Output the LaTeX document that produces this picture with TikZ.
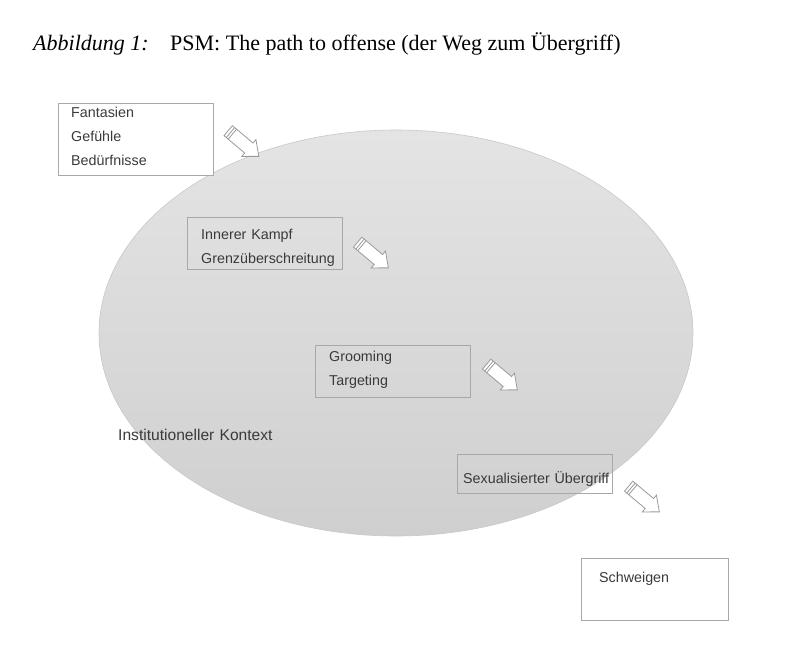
\documentclass[tikz,border=0pt]{standalone}
\usepackage{fontspec}
\setmainfont{Liberation Serif}
\setsansfont{Liberation Sans}
\usetikzlibrary{positioning}
\definecolor{txtgray}{HTML}{3A3A3A}
\definecolor{boxgray}{HTML}{A8A8A8}
\definecolor{elltop}{HTML}{E4E4E4}
\definecolor{ellbot}{HTML}{CFCFD0}
\definecolor{ellline}{HTML}{C8C8C8}
\definecolor{arrline}{HTML}{9A9A9A}
\tikzset{
  stagebox/.style={draw=boxgray, line width=0.9pt, rectangle, inner sep=0pt, anchor=north west},
  stagetext/.style={font=\sffamily\fontsize{14.3}{24}\selectfont, text=txtgray, align=left, text width=150pt, inner sep=0pt, anchor=base west},
  blockarrow/.pic={
    \draw[draw=arrline, fill=white, line width=0.8pt, line join=miter]
      (-20,-6.5) -- (7,-6.5) -- (7,-11) -- (20,0) -- (7,11) -- (7,6.5) -- (-20,6.5) -- cycle;
    \draw[draw=arrline, line width=0.8pt] (-17,-6.5) -- (-17,6.5);
    \draw[draw=arrline, line width=0.8pt] (-14.5,-6.5) -- (-14.5,6.5);
  }
}
\begin{document}
\begin{tikzpicture}[x=1pt,y=-1pt]
\useasboundingbox (0,0) rectangle (795,653);
\fill[white] (0,0) rectangle (795,653);
% title
\node[anchor=base west, inner sep=0pt, font=\fontsize{22}{26}\selectfont\itshape] (ab) at (33,50) {Abbildung 1:};
\node[anchor=base west, inner sep=0pt, font=\fontsize{22}{26}\selectfont] (tt) at (170,50) {PSM: The path to offense (der Weg zum Übergriff)};
% ellipse
\path[top color=elltop, bottom color=ellbot, draw=ellline, line width=0.6pt] (396,333) ellipse [x radius=297, y radius=203];
\node[stagetext, font=\sffamily\fontsize{15.6}{24}\selectfont, text width=170pt] (ctx) at (118,440) {Institutioneller Kontext};
% boxes
\node[stagebox, minimum width=155pt, minimum height=72pt, fill=white] (b1) at (58,103) {};
\node[stagetext] (t1) at (71,117) {Fantasien\\Gefühle\\Bedürfnisse};
\node[stagebox, minimum width=155pt, minimum height=52pt] (b2) at (187,217) {};
\node[stagetext] (t2) at (201,239) {Innerer Kampf\\Grenzüberschreitung};
\node[stagebox, minimum width=155pt, minimum height=52pt] (b3) at (315,345) {};
\node[stagetext] (t3) at (329,361) {Grooming\\Targeting};
\node[stagebox, minimum width=155pt, minimum height=39pt] (b4) at (457,454) {};
\node[stagetext] (t4) at (463,483) {Sexualisierter Übergriff};
\node[stagebox, minimum width=147pt, minimum height=62pt, fill=white] (b5) at (581,558) {};
\node[stagetext] (t5) at (599,582) {Schweigen};
% arrows
\pic[rotate=-40] at (243.5,143.5) {blockarrow};
\pic[rotate=-40] at (373,255) {blockarrow};
\pic[rotate=-40] at (502,377) {blockarrow};
\pic[rotate=-40] at (644,499) {blockarrow};
\end{tikzpicture}
\end{document}
